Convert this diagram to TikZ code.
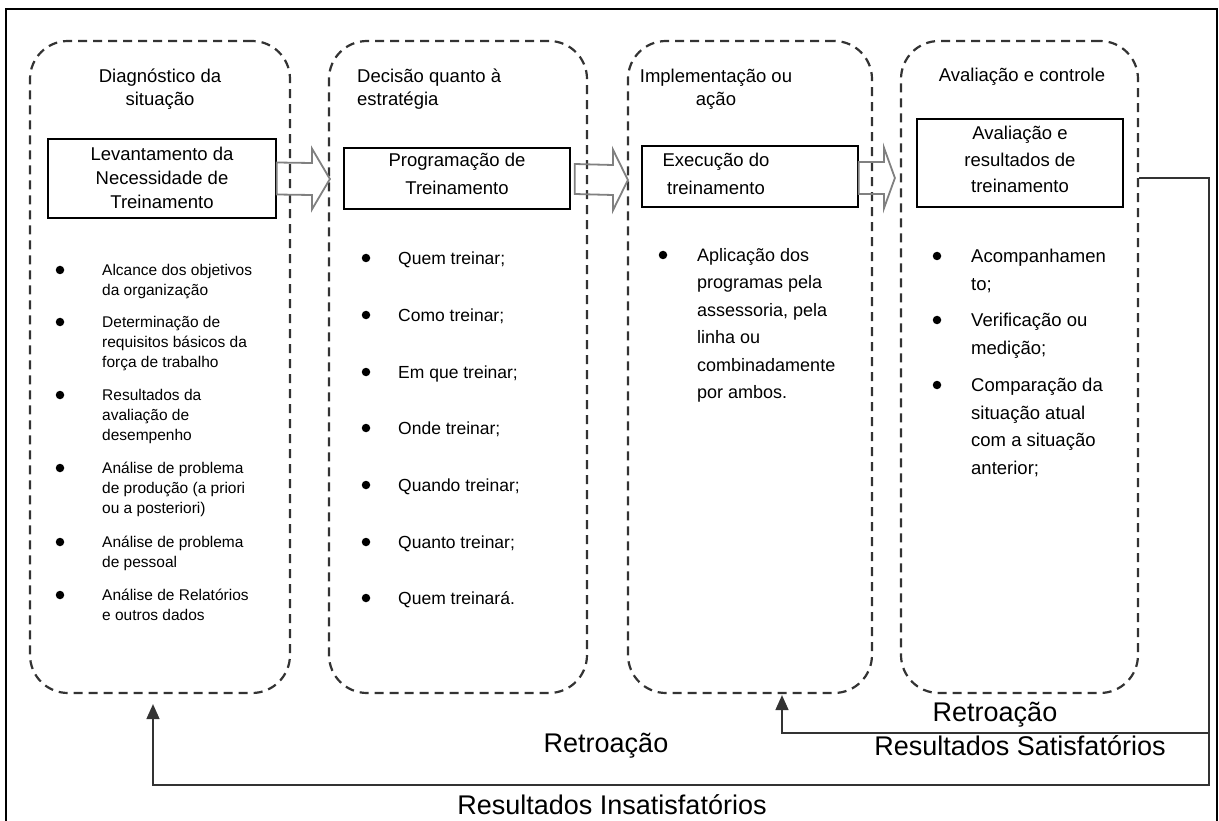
\documentclass[tikz,border=0pt]{standalone}
\usepackage{fontspec}
\setmainfont{Liberation Sans}
\usetikzlibrary{calc,arrows.meta}
\newcommand\ls{\rule{0pt}{1em}}
\tikzset{
  dbox/.style={draw=black!80, line width=2.2pt, dash pattern=on 9pt off 6pt, rounded corners=38pt, inner sep=0pt},
  ibox/.style={draw=black, line width=1.3pt, inner sep=0pt},
  itext/.style={align=center, inner sep=0pt},
  hdr/.style={align=center, inner sep=0pt, font=\fontsize{18.5}{23}\selectfont},
  barrow/.style={draw=black!50, line width=1.8pt, line join=miter},
  bul/.style={circle, fill=black, inner sep=0pt, minimum size=8.5pt},
  lista/.style={align=left, anchor=north west, inner sep=0pt, font=\fontsize{15.5}{20}\selectfont},
  listb/.style={align=left, anchor=north west, inner sep=0pt, font=\fontsize{17.5}{21}\selectfont},
  listc/.style={align=left, anchor=north west, inner sep=0pt, font=\fontsize{18}{27.4}\selectfont},
  listd/.style={align=left, anchor=north west, inner sep=0pt, font=\fontsize{18.5}{27.5}\selectfont},
  fb/.style={draw=black!80, line width=1.6pt},
  fbarrow/.style={fb, -{Triangle[width=13pt,length=15pt]}},
  lbl/.style={inner sep=0pt, font=\fontsize{27}{32}\selectfont},
}
\newcommand\blockarr[4]{% start, tip, head length, shaft half
  \draw[barrow] ($(#1)+(0,-#4)$) -- ($(#2)+(-#3,-#4)$) -- ($(#2)+(-#3,-30.5)$) -- (#2)
     -- ($(#2)+(-#3,30.5)$) -- ($(#2)+(-#3,#4)$) -- ($(#1)+(0,#4)$) -- cycle;}
\begin{document}
\begin{tikzpicture}[x=1pt,y=-1pt]
\useasboundingbox (0,0) rectangle (1219,821);
% outer frame
\draw[line width=1.8pt] (6,825) -- (6,9) -- (1217,9) -- (1217,825);

% dashed stage boxes
\node[dbox, minimum width=260pt, minimum height=652pt] (b1) at (160,367) {};
\node[dbox, minimum width=258pt, minimum height=652pt] (b2) at (458,367) {};
\node[dbox, minimum width=244pt, minimum height=652pt] (b3) at (750,367) {};
\node[dbox, minimum width=237pt, minimum height=652pt] (b4) at (1019.5,367) {};

% headers
\node[hdr] (h1) at (160,89) {Diagnóstico da\\situação};
\node[hdr, align=left, anchor=west] (h2) at (357,89) {Decisão quanto à\\estratégia};
\node[hdr] (h3) at (716,89) {Implementação ou\\ação};
\node[hdr] (h4) at (1022,77) {Avaliação e controle};

% inner boxes
\node[ibox, minimum width=228pt, minimum height=79pt] (i1) at (162,178.5) {};
\node[ibox, minimum width=226pt, minimum height=61pt] (i2) at (457,178.5) {};
\node[ibox, minimum width=216pt, minimum height=61pt] (i3) at (750,176.5) {};
\node[ibox, minimum width=206pt, minimum height=88pt] (i4) at (1020,163) {};
\node[itext, font=\fontsize{18.5}{24}\selectfont] (i1t) at (162,178) {Levantamento da\\Necessidade de\\Treinamento};
\node[itext, font=\fontsize{18.5}{28}\selectfont] (i2t) at (457,174) {Programação de\\Treinamento};
\node[itext, font=\fontsize{18.5}{28}\selectfont] (i3t) at (716,174) {Execução do\\treinamento};
\node[itext, font=\fontsize{18.5}{26.5}\selectfont] (i4t) at (1020,159.5) {Avaliação e\\resultados de\\treinamento};

% block arrows
\coordinate (t1) at ($(b2.west |- i1.east)+(2,0.5)$);
\coordinate (t2) at ($(b3.west |- i2.east)+(1,1.5)$);
\coordinate (t3) at ($(b4.west |- i3.east)+(-5,1.5)$);
\coordinate (s2) at ($(i2.east)+(4,0.5)$);
\coordinate (s3) at ($(i3.east)+(0,1.5)$);
\blockarr{i1.east}{t1}{18}{16}
\blockarr{s2}{t2}{15}{15}
\blockarr{s3}{t3}{11}{16}

% list 1
\foreach \n/\yy in {1/270,2/322,3/395,4/468,5/542,6/595}
  \node[bul] (ba\n) at (60,\yy) {};
\node[lista] (la1) at (102,260) {\ls Alcance dos objetivos\\da organização};
\node[lista] (la2) at (102,312) {\ls Determinação de\\requisitos básicos da\\força de trabalho};
\node[lista] (la3) at (102,385) {\ls Resultados da\\avaliação de\\desempenho};
\node[lista] (la4) at (102,458) {\ls Análise de problema\\de produção (a priori\\ou a posteriori)};
\node[lista] (la5) at (102,532) {\ls Análise de problema\\de pessoal};
\node[lista] (la6) at (102,585) {\ls Análise de Relatórios\\e outros dados};

% list 2
\foreach \n/\yy/\tx in {1/258/Quem treinar;,2/315/Como treinar;,3/372/Em que treinar;,4/428/Onde treinar;,5/485/Quando treinar;,6/542/Quanto treinar;,7/598/Quem treinará.}{
  \node[bul] (bb\n) at (366,\yy) {};
  \node[listb] (lb\n) at (398,\yy-11.4) {\ls\tx};
}

% list 3
\node[bul] (bc1) at (663,255) {};
\node[listc] (lc1) at (697,243.3) {\ls Aplicação dos\\programas pela\\assessoria, pela\\linha ou\\combinadamente\\por ambos.};

% list 4
\node[bul] (bd1) at (937,256) {};
\node[bul] (bd2) at (937,320) {};
\node[bul] (bd3) at (937,385) {};
\node[listd] (ld1) at (971,244) {\ls Acompanhamen\\to;};
\node[listd] (ld2) at (971,308) {\ls Verificação ou\\medição;};
\node[listd] (ld3) at (971,373) {\ls Comparação da\\situação atual\\com a situação\\anterior;};

% feedback loops
\coordinate (fr1) at (1209,178);
\coordinate (fr2) at (1209,785);
\coordinate (fr3) at (1209,733);
\coordinate (a1) at ($(b1.south)+(-7,10)$);
\coordinate (a3) at ($(b3.south)+(32,1)$);
\draw[fbarrow] (b4.east |- fr1) -- (fr1) -- (fr2) -| (a1);
\draw[fbarrow] (fr3) -| (a3);

% labels
\node[lbl] (r1) at (995,715) {Retroação};
\node[lbl] (r2) at (1020,746) {Resultados Satisfatórios};
\node[lbl] (r3) at (606,746) {Retroação};
\node[lbl] (r4) at (612,805) {Resultados Insatisfatórios};
\end{tikzpicture}
\end{document}
